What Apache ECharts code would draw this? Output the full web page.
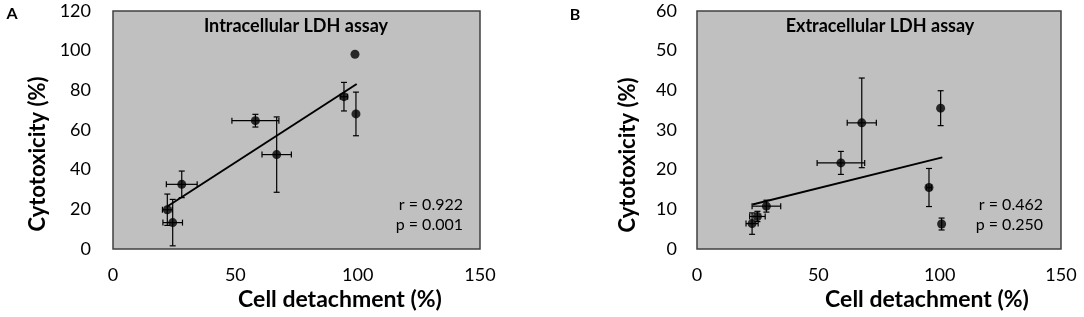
<!DOCTYPE html>
<html>
<head>
<meta charset="utf-8">
<script src="https://cdn.jsdelivr.net/npm/echarts@6/dist/echarts.min.js"></script>
<style>
html,body{margin:0;padding:0;background:#fff;}
#chart{width:1084px;height:317px;}
</style>
</head>
<body>
<div id="chart"></div>
<script>
// ---- Data ----
// Panel A: Intracellular LDH assay
const xA    = [98.9, 94.4, 99.3, 58.2, 66.9, 28.1, 22.2, 24.4];
const yA    = [98.2, 76.8, 68.1, 64.7, 47.6, 32.6, 19.8, 13.3];
const xErrA = [0.0, 1.5, 0.0, 9.6, 6.0, 6.3, 2.0, 4.0];
const yErrA = [0.0, 7.2, 11.0, 3.2, 19.0, 6.7, 7.9, 11.7];
const trendA = [[22.0, 21.3], [99.6, 83.2]];
const statsA = ['r = 0.922', 'p = 0.001'];

// Panel B: Extracellular LDH assay
const xB    = [100.4, 67.9, 59.3, 95.6, 100.8, 28.6, 24.9, 22.7];
const yB    = [35.5, 31.8, 21.7, 15.5, 6.3, 10.8, 8.2, 6.4];
const xErrB = [0.0, 6.0, 9.8, 1.0, 0.0, 5.9, 3.2, 2.5];
const yErrB = [4.4, 11.3, 2.9, 4.8, 1.5, 1.5, 1.3, 2.7];
const trendB = [[22.9, 11.2], [101.1, 23.1]];
const statsB = ['r = 0.462', 'p = 0.250'];

const xTicksMax = 150, xInterval = 50;
const yMaxA = 120, yIntA = 20;
const yMaxB = 60, yIntB = 10;

// ---- Chart ----
const FONT = 'Lato';
const chart = echarts.init(document.getElementById('chart'), null, {renderer: 'canvas'});

function pts(x, y) { return x.map((v, i) => [v, y[i]]); }
function errData(x, y, xe, ye) { return x.map((v, i) => [v, y[i], xe[i], ye[i]]); }

function errRender(params, api) {
  const x = api.value(0), y = api.value(1), xe = api.value(2), ye = api.value(3);
  const cap = 3;
  const children = [];
  const style = {stroke: '#000', lineWidth: 1.2};
  if (ye > 0) {
    const t = api.coord([x, y + ye]), b = api.coord([x, y - ye]);
    children.push({type: 'line', shape: {x1: t[0], y1: t[1], x2: b[0], y2: b[1]}, style});
    children.push({type: 'line', shape: {x1: t[0] - cap, y1: t[1], x2: t[0] + cap, y2: t[1]}, style});
    children.push({type: 'line', shape: {x1: b[0] - cap, y1: b[1], x2: b[0] + cap, y2: b[1]}, style});
  }
  if (xe > 0) {
    const l = api.coord([x - xe, y]), r = api.coord([x + xe, y]);
    children.push({type: 'line', shape: {x1: l[0], y1: l[1], x2: r[0], y2: r[1]}, style});
    children.push({type: 'line', shape: {x1: l[0], y1: l[1] - cap, x2: l[0], y2: l[1] + cap}, style});
    children.push({type: 'line', shape: {x1: r[0], y1: r[1] - cap, x2: r[0], y2: r[1] + cap}, style});
  }
  return {type: 'group', children};
}

const gridStyle = {show: true, backgroundColor: '#c0c0c0', borderColor: '#404040', borderWidth: 1.5};
const axisLabelStyle = {color: '#000', fontFamily: FONT, fontSize: 18};

function xAxis(idx) {
  return {
    type: 'value', gridIndex: idx, min: 0, max: xTicksMax, interval: xInterval,
    axisLine: {show: false}, axisTick: {show: false}, splitLine: {show: false},
    axisLabel: Object.assign({margin: 17}, axisLabelStyle)
  };
}
function yAxis(idx, max, interval, margin) {
  return {
    type: 'value', gridIndex: idx, min: 0, max: max, interval: interval,
    axisLine: {show: false}, axisTick: {show: false}, splitLine: {show: false},
    axisLabel: Object.assign({margin: margin}, axisLabelStyle)
  };
}

function txt(x, y, text, size, bold, align, rotation) {
  return {
    type: 'text', x: x, y: y, rotation: rotation || 0,
    style: {text: text, fill: '#000', fontFamily: FONT, fontSize: size,
            fontWeight: bold ? 'bold' : 'normal', textAlign: align || 'center', textVerticalAlign: 'middle'}
  };
}

chart.setOption({
  animation: false,
  grid: [
    Object.assign({left: 113, top: 11, width: 367, height: 238}, gridStyle),
    Object.assign({left: 697, top: 11, width: 364, height: 238}, gridStyle)
  ],
  xAxis: [xAxis(0), xAxis(1)],
  yAxis: [yAxis(0, yMaxA, yIntA, 22), yAxis(1, yMaxB, yIntB, 20)],
  series: [
    {type: 'custom', xAxisIndex: 0, yAxisIndex: 0, renderItem: errRender,
     data: errData(xA, yA, xErrA, yErrA), z: 2},
    {type: 'line', xAxisIndex: 0, yAxisIndex: 0, data: trendA, showSymbol: false, symbol: 'none',
     lineStyle: {color: '#000', width: 2}, z: 3},
    {type: 'scatter', xAxisIndex: 0, yAxisIndex: 0, data: pts(xA, yA), symbolSize: 9,
     itemStyle: {color: '#000'}, z: 4},
    {type: 'custom', xAxisIndex: 1, yAxisIndex: 1, renderItem: errRender,
     data: errData(xB, yB, xErrB, yErrB), z: 2},
    {type: 'line', xAxisIndex: 1, yAxisIndex: 1, data: trendB, showSymbol: false, symbol: 'none',
     lineStyle: {color: '#000', width: 2}, z: 3},
    {type: 'scatter', xAxisIndex: 1, yAxisIndex: 1, data: pts(xB, yB), symbolSize: 9,
     itemStyle: {color: '#000'}, z: 4}
  ],
  graphic: [
    txt(12, 14, 'A', 16, true),
    txt(575, 15, 'B', 16, true),
    txt(296, 26, 'Intracellular LDH assay', 18, true),
    txt(880, 26, 'Extracellular LDH assay', 18, true),
    txt(38, 154, 'Cytotoxicity (%)', 22, true, 'center', Math.PI / 2),
    txt(628, 155, 'Cytotoxicity (%)', 22, true, 'center', Math.PI / 2),
    txt(340, 300, 'Cell detachment (%)', 23, true),
    txt(927, 300, 'Cell detachment (%)', 23, true),
    txt(463, 205, statsA[0], 16, false, 'right'),
    txt(463, 225, statsA[1], 16, false, 'right'),
    txt(1043, 205, statsB[0], 16, false, 'right'),
    txt(1043, 225, statsB[1], 16, false, 'right')
  ]
});
</script>
</body>
</html>
